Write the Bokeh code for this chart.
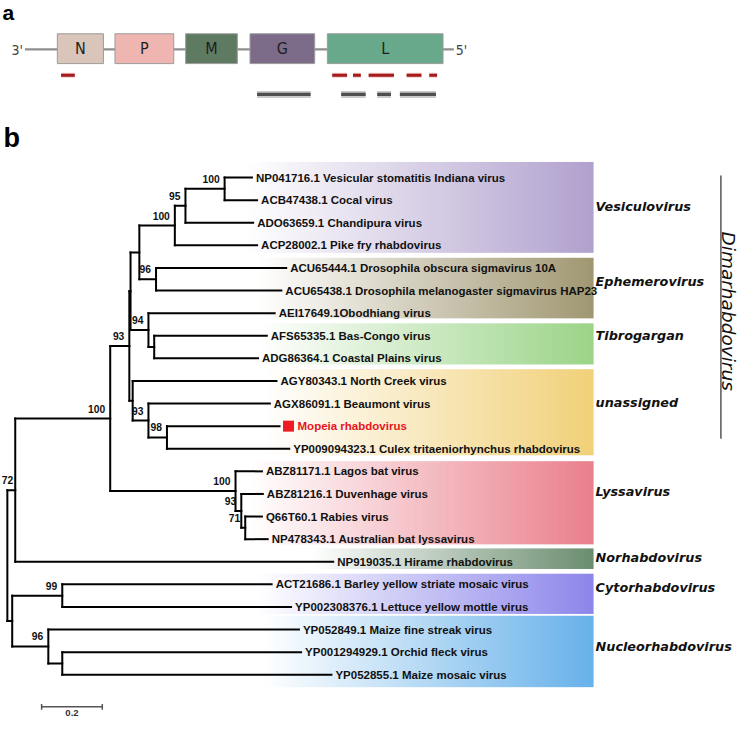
import numpy as np
from bokeh.plotting import figure
from bokeh.layouts import column
from bokeh.models import Range1d
from bokeh.embed import file_html
from bokeh.resources import INLINE
from bokeh.core.properties import value

# ---------------- data: panel a (genome map, positions in kb) ----------------
genome_length = 11.53
gene_names = ["N", "P", "M", "G", "L"]
gene_start = [0.87, 2.42, 4.32, 6.05, 8.13]
gene_end = [2.11, 4.00, 5.71, 7.79, 11.24]
gene_colors = ["#d9c5b9", "#efb5b0", "#5e7b62", "#7d6b8a", "#67a98a"]
red_start = [0.97, 8.26, 8.82, 9.24, 10.26, 10.87]
red_end = [1.34, 8.66, 9.03, 9.92, 10.66, 11.08]
gray_start = [6.24, 8.50, 9.47, 10.08]
gray_end = [7.68, 9.16, 9.84, 11.05]

# ---------------- data: panel b (phylogenetic tree) ----------------
leaf_names = [
    "NP041716.1 Vesicular stomatitis Indiana virus",
    "ACB47438.1 Cocal virus",
    "ADO63659.1 Chandipura virus",
    "ACP28002.1 Pike fry rhabdovirus",
    "ACU65444.1 Drosophila obscura sigmavirus 10A",
    "ACU65438.1 Drosophila melanogaster sigmavirus HAP23",
    "AEI17649.1Obodhiang virus",
    "AFS65335.1 Bas-Congo virus",
    "ADG86364.1 Coastal Plains virus",
    "AGY80343.1 North Creek virus",
    "AGX86091.1 Beaumont virus",
    "Mopeia rhabdovirus",
    "YP009094323.1 Culex tritaeniorhynchus rhabdovirus",
    "ABZ81171.1 Lagos bat virus",
    "ABZ81216.1 Duvenhage virus",
    "Q66T60.1 Rabies virus",
    "NP478343.1 Australian bat lyssavirus",
    "NP919035.1 Hirame rhabdovirus",
    "ACT21686.1 Barley yellow striate mosaic virus",
    "YP002308376.1 Lettuce yellow mottle virus",
    "YP052849.1 Maize fine streak virus",
    "YP001294929.1 Orchid fleck virus",
    "YP052855.1 Maize mosaic virus",
]
leaf_depth = [0.806, 0.823, 0.810, 0.823, 0.919, 0.903, 0.881, 0.855, 0.826,
              0.887, 0.865, 0.897, 0.929, 0.839, 0.842, 0.839, 0.858, 1.074,
              0.871, 0.935, 0.961, 0.968, 1.068]
highlight_leaf = 11

node_names = ["A", "B", "C", "E", "D", "G", "F", "L1", "I", "H", "J", "L2",
              "P", "O", "N", "M", "Q", "S", "U", "T", "R", "root"]
node_children = [(0, 1), ("A", 2), ("B", 3), (4, 5), ("C", "E"), (7, 8),
                 (6, "G"), ("D", "F"), (11, 12), (10, "I"), (9, "H"),
                 ("L1", "J"), (15, 16), (14, "P"), (13, "O"), ("L2", "N"),
                 ("M", 17), (18, 19), (21, 22), (20, "U"), ("S", "T"),
                 ("Q", "R")]
node_depth = [0.716, 0.587, 0.552, 0.490, 0.435, 0.484, 0.465, 0.406, 0.526,
              0.465, 0.413, 0.402, 0.784, 0.771, 0.752, 0.339, 0.026, 0.181,
              0.181, 0.135, 0.016, 0.0]
node_support = ["100", "95", "100", "96", "", "", "94", "", "98", "93", "",
                "93", "71", "93", "100", "100", "72", "99", "", "96", "", ""]

clade_names = ["Vesiculovirus", "Ephemerovirus", "Tibrogargan", "unassigned",
               "Lyssavirus", "Norhabdovirus", "Cytorhabdovirus",
               "Nucleorhabdovirus"]
clade_top = [-0.69, 3.55, 6.45, 8.48, 12.55, 16.41, 17.53, 19.39]
clade_bottom = [3.33, 6.23, 8.27, 12.29, 16.23, 17.32, 19.31, 22.55]
clade_left = [0.784, 0.823, 0.823, 0.848, 0.800, 1.003, 0.823, 0.842]
clade_right = 1.932
clade_colors = [(177, 161, 206), (160, 151, 114), (155, 212, 136),
                (241, 208, 120), (234, 127, 140), (107, 141, 111),
                (141, 134, 234), (103, 177, 234)]
clade_label_row = [1.30, 4.59, 7.01, 9.96, 13.90, 16.80, 18.14, 20.74]

group_name = "Dimarhabdovirus"
group_top, group_bottom = -0.09, 11.56
group_label_row = 5.91
scale_bar = 0.2

# ---------------- layout ----------------
W, HA, HB = 739, 110, 611
SY = (HA + HB) / 737.0
SANS = value("Liberation Sans")


def base_fig(h, xr, yr):
    f = figure(width=W, height=h, x_range=xr, y_range=yr,
               output_backend="svg", toolbar_location=None, min_border=0)
    f.axis.visible = False
    f.grid.visible = False
    f.outline_line_color = None
    f.background_fill_color = "white"
    f.border_fill_color = "white"
    return f


# ---------------- panel a ----------------
pa = base_fig(HA, Range1d(-25 / 38.0, 730 / 38.0), Range1d(HA / SY, 0))
pa.segment(x0=[0], y0=[50], x1=[genome_length], y1=[50],
           line_color="#8e8e8e", line_width=2.3)
pa.quad(left=gene_start, right=gene_end, top=34, bottom=64.5,
        fill_color=gene_colors, line_color="#9c9c9c", line_width=1)
COND = value("DejaVu Sans Condensed, DejaVu Sans")
pa.text(x=[(s + e) / 2 for s, e in zip(gene_start, gene_end)], y=49.5,
        text=gene_names, text_align="center", text_baseline="middle",
        text_font=COND, text_font_size="16px", text_color="#1e1e1e")
pa.text(x=[0], y=[51], text=["3'"], text_align="right", x_offset=-2,
        text_baseline="middle", text_font=COND,
        text_font_size="14px", text_color="#444444")
pa.text(x=[genome_length], y=[51], text=["5'"], text_align="left",
        x_offset=2, text_baseline="middle", text_font=COND,
        text_font_size="14px", text_color="#444444")
pa.segment(x0=red_start, y0=76.5, x1=red_end, y1=76.5,
           line_color="#e8a0a0", line_width=5, line_alpha=0.6)
pa.segment(x0=red_start, y0=76.5, x1=red_end, y1=76.5,
           line_color="#a51a1a", line_width=3)
pa.segment(x0=gray_start, y0=96, x1=gray_end, y1=96,
           line_color="#bdbdbd", line_width=7, line_alpha=0.8)
pa.segment(x0=gray_start, y0=96, x1=gray_end, y1=96,
           line_color="#4e4e4e", line_width=3.2)
pa.text(x=[-23 / 38.0], y=[12.2], text=["a"], text_align="left",
        text_baseline="middle", text_font=SANS,
        text_font_style="bold", text_font_size="21px", text_color="black")

# ---------------- panel b ----------------
r_top = (HA / SY - 181) / 23.1
r_bot = (737 - 181) / 23.1
xr = Range1d(-7 / 310.0, 748 / 310.0)
pb = base_fig(HB, xr, Range1d(r_bot, r_top))
upp = (xr.end - xr.start) / W  # data units per screen pixel

# clade background gradients
NCOL = 300
for left, top, bot, col in zip(clade_left, clade_top, clade_bottom, clade_colors):
    t = np.linspace(0.0, 1.0, NCOL)
    img = np.empty((1, NCOL), dtype=np.uint32)
    v = img.view(dtype=np.uint8).reshape((1, NCOL, 4))
    for k in range(3):
        v[0, :, k] = np.round(255 + (col[k] - 255) * t).astype(np.uint8)
    v[0, :, 3] = 255
    pb.image_rgba(image=[img], x=left, y=top, dw=clade_right - left,
                  dh=bot - top)

# tree geometry
idx = {n: i for i, n in enumerate(node_names)}
node_y = {}


def ypos(c):
    return float(c) if isinstance(c, int) else node_y[c]


def xpos(c):
    return leaf_depth[c] if isinstance(c, int) else node_depth[idx[c]]


for name, kids in zip(node_names, node_children):
    node_y[name] = sum(ypos(k) for k in kids) / len(kids)

hx0, hx1, hy, vx, vy0, vy1 = [], [], [], [], [], []
for name, kids in zip(node_names, node_children):
    d = node_depth[idx[name]]
    ys = [ypos(k) for k in kids]
    vx.append(d)
    vy0.append(min(ys))
    vy1.append(max(ys))
    for k in kids:
        hx0.append(d)
        hx1.append(xpos(k))
        hy.append(ypos(k))

pb.segment(x0=hx0, y0=hy, x1=hx1, y1=hy, line_color="black", line_width=2,
           line_cap="square")
pb.segment(x0=vx, y0=vy0, x1=vx, y1=vy1, line_color="black", line_width=2,
           line_cap="square")

# support values
sx_, sy_, st_, so_ = [], [], [], []
for name, s in zip(node_names, node_support):
    if s:
        d = node_depth[idx[name]]
        sx_.append(d)
        sy_.append(node_y[name])
        st_.append(s)
        so_.append(-5 if d > 0.05 else -2)
pb.text(x=sx_, y=sy_, text=st_, text_align="right", text_baseline="middle",
        x_offset=so_, y_offset=-10, text_font=SANS,
        text_font_style="bold", text_font_size="10.3px", text_color="#111111")

# leaf labels
norm = [i for i in range(len(leaf_names)) if i != highlight_leaf]
pb.text(x=[leaf_depth[i] for i in norm], y=norm,
        text=[leaf_names[i] for i in norm], text_align="left",
        text_baseline="middle", x_offset=4, text_font=SANS,
        text_font_style="bold", text_font_size="11.5px", text_color="#111111")
hl = highlight_leaf
pb.scatter(x=[leaf_depth[hl] + 9 * upp], y=[hl], marker="square", size=11,
           fill_color="#ee1c24", line_color=None)
pb.text(x=[leaf_depth[hl]], y=[hl], text=[leaf_names[hl]], text_align="left",
        text_baseline="middle", x_offset=18, text_font=SANS,
        text_font_style="bold", text_font_size="11.5px", text_color="#e8141c")

# clade labels
pb.text(x=[clade_right] * len(clade_names), y=clade_label_row,
        text=clade_names, text_align="left", text_baseline="middle",
        x_offset=2, text_font=value("DejaVu Sans"), text_font_style="bold italic",
        text_font_size="12.8px", text_color="#111111")

# Dimarhabdovirus bracket
gx = (736 - 7) / 310.0
gx_text = (744 - 7) / 310.0
pb.segment(x0=[gx], y0=[group_top], x1=[gx], y1=[group_bottom],
           line_color="#555555", line_width=1.5)
pb.text(x=[gx_text], y=[group_label_row], text=[group_name],
        angle=-np.pi / 2, text_align="center", text_baseline="middle",
        text_font=value("DejaVu Sans"),
        text_font_style="italic", text_font_size="18.5px", text_color="#111111")

# scale bar
sb_x0 = (42 - 7) / 310.0
sb_y = (722 - 181) / 23.1
pb.segment(x0=[sb_x0], y0=[sb_y], x1=[sb_x0 + scale_bar], y1=[sb_y],
           line_color="#555555", line_width=1.5)
pb.segment(x0=[sb_x0, sb_x0 + scale_bar], y0=[sb_y - 0.13, sb_y - 0.13],
           x1=[sb_x0, sb_x0 + scale_bar], y1=[sb_y + 0.13, sb_y + 0.13],
           line_color="#555555", line_width=1.5)
pb.text(x=[sb_x0 + scale_bar / 2], y=[sb_y], text=[str(scale_bar)],
        text_align="center", text_baseline="top", y_offset=3,
        text_font=SANS, text_font_style="bold",
        text_font_size="9.5px", text_color="#333333")

# panel label b
pb.text(x=[-4 / 310.0], y=[(140.6 - 181) / 23.1], text=["b"], text_align="left",
        text_baseline="middle", text_font=SANS,
        text_font_style="bold", text_font_size="27px", text_color="black")

layout = column(pa, pb, spacing=0)
open("out.html", "w").write(file_html(layout, INLINE))
